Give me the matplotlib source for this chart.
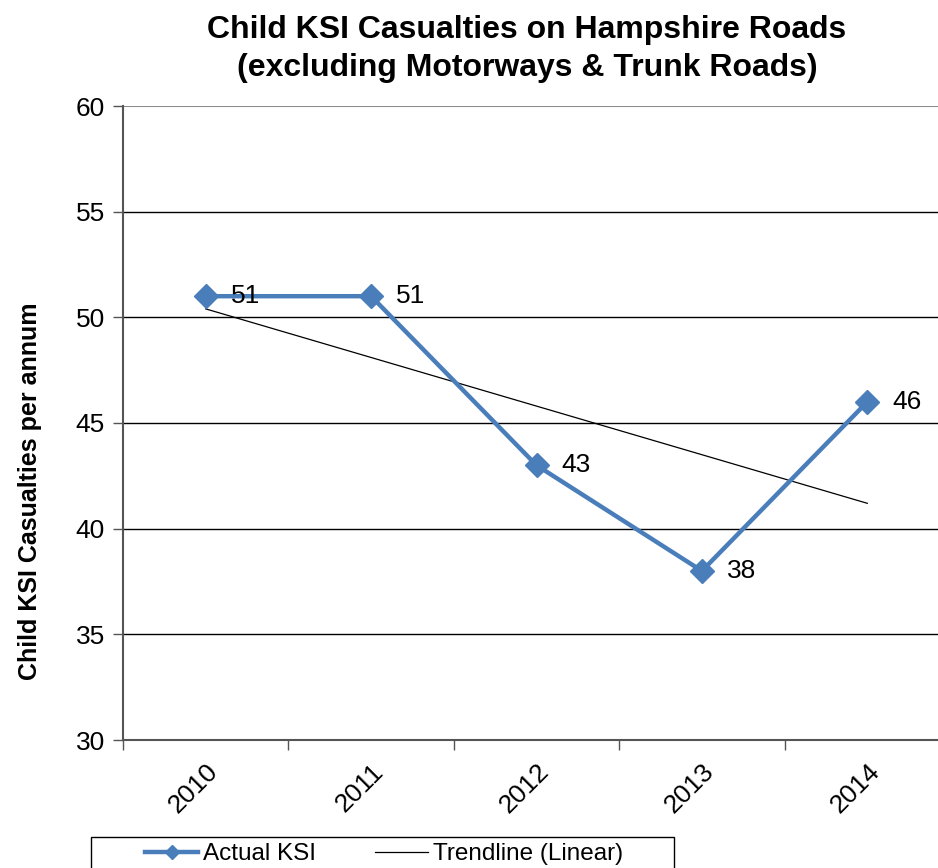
import numpy as np
import matplotlib.pyplot as plt
from matplotlib.patches import Rectangle

plt.rcParams['font.family'] = ['Liberation Sans', 'DejaVu Sans']

# Data.
years = ['2010', '2011', '2012', '2013', '2014']
actual_ksi = [51, 51, 43, 38, 46]
y_ticks = [30, 35, 40, 45, 50, 55, 60]

blue = '#4A7EBB'
fs = 19

fig = plt.figure(figsize=(9.38, 8.68), dpi=100)
# Plot area runs past the right edge of the picture, as in the reference.
ax = fig.add_axes([123/938, 1 - 740/868, 827/938, (740 - 106)/868])

x = np.arange(len(years))

# Horizontal gridlines.
for yv in y_ticks[1:-1]:
    ax.axhline(yv, color='black', linewidth=1.0, zorder=1)
ax.axhline(60, color='#8c8c8c', linewidth=1.5, zorder=1)

# Linear trendline fitted to the series.
coef = np.polyfit(x, actual_ksi, 1)
h_trend, = ax.plot(x, np.polyval(coef, x), color='black', linewidth=0.9, zorder=2)

h_actual, = ax.plot(x, actual_ksi, color=blue, linewidth=3.2, marker='D',
                    markersize=12, markerfacecolor=blue, markeredgecolor=blue, zorder=3)

for xi, yi in zip(x, actual_ksi):
    ax.annotate(str(yi), (xi, yi), xytext=(18, 0), textcoords='offset points',
                ha='left', va='center', fontsize=fs)

ax.set_xlim(-0.5, 4.5)
ax.set_ylim(30, 60)
ax.set_yticks(y_ticks)
ax.set_yticklabels([str(v) for v in y_ticks], fontsize=fs)

# Tick marks between categories, labels at category centres.
ax.set_xticks(np.arange(-0.5, 5.0, 1.0))
ax.set_xticklabels([])
ax.set_xticks(x, minor=True)
ax.set_xticklabels(years, minor=True, fontsize=fs, rotation=45, ha='right',
                   va='top', rotation_mode='anchor')
ax.tick_params(axis='x', which='minor', length=0, pad=14)
ax.tick_params(axis='x', which='major', length=7, width=1, color='#555555')
ax.tick_params(axis='y', length=7, width=1, color='#555555', pad=6)

for s in ['top', 'right']:
    ax.spines[s].set_visible(False)
ax.spines['left'].set_color('#555555')
ax.spines['left'].set_linewidth(1.5)
ax.spines['bottom'].set_color('#555555')
ax.spines['bottom'].set_linewidth(1.5)

fig.text(30/938, 1 - 491/868, 'Child KSI Casualties per annum', rotation=90,
         ha='center', va='center', fontsize=18, fontweight='bold')

fig.text(527/938, 1 - 30/868, 'Child KSI Casualties on Hampshire Roads',
         ha='center', va='center', fontsize=23, fontweight='bold')
fig.text(527/938, 1 - 68/868, '(excluding Motorways & Trunk Roads)',
         ha='center', va='center', fontsize=23, fontweight='bold')

# Legend box, cut off by the bottom edge as in the reference.
fig.add_artist(Rectangle((91/938, 1 - 900/868), (674 - 91)/938, 63/868,
                         transform=fig.transFigure, facecolor='white',
                         edgecolor='black', linewidth=1.0))
leg = fig.legend([h_actual, h_trend], ['Actual KSI', 'Trendline (Linear)'],
                 loc='upper left', bbox_to_anchor=(145/938, 1 - 843/868), ncol=2,
                 fontsize=17.5, frameon=False, handlelength=2.2, columnspacing=2.4,
                 borderpad=0, handletextpad=0.2, borderaxespad=0)
leg.legend_handles[0].set_markersize(7)

fig.savefig('out.png', dpi=100)
